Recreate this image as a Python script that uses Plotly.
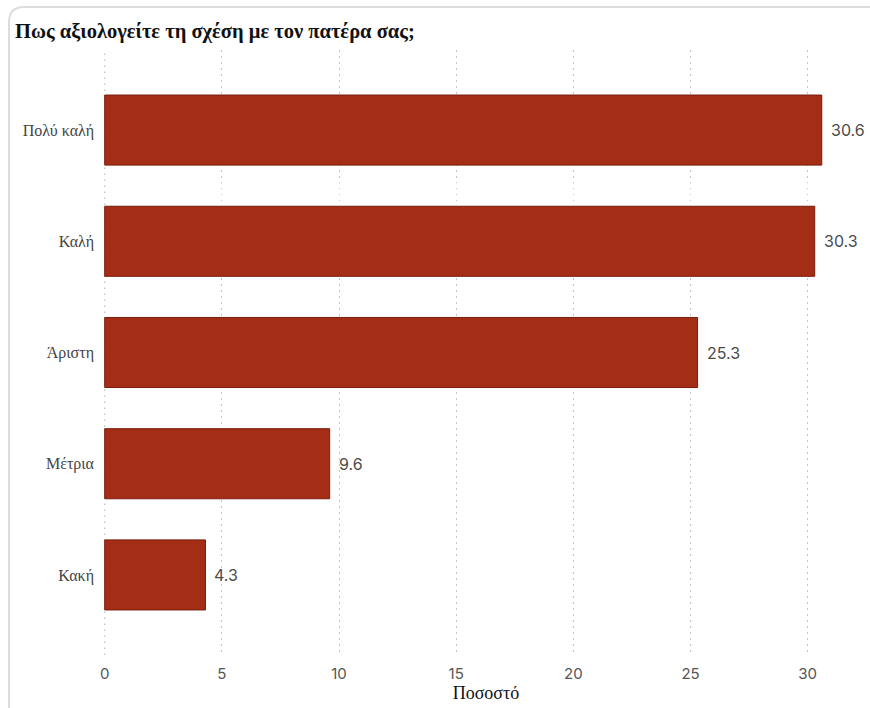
import plotly.graph_objects as go

# Survey answers and their percentages
categories = ["Πολύ καλή", "Καλή", "Άριστη", "Μέτρια", "Κακή"]
values = [30.6, 30.3, 25.3, 9.6, 4.3]
tick_values = [0, 5, 10, 15, 20, 25, 30]

title_text = "Πως αξιολογείτε τη σχέση με τον πατέρα σας;"
x_title = "Ποσοστό"

W, H = 870, 708
ML, MR, MT, MB = 104, 2, 50, 53
PW, PH = W - ML - MR, H - MT - MB
X0 = -0.03
X1 = X0 + PW / (703 / 30)
GRID_COLOR = "#c4c4c4"
GRID_DASH = "1.5px,4.5px"


def px_x(px):
    return (px - ML) / PW


def px_y(py):
    return (H - MB - py) / PH


fig = go.Figure(
    go.Bar(
        y=categories,
        x=values,
        orientation="h",
        width=0.63,
        marker=dict(color="#a32d15", line=dict(color="#7a1d0b", width=1)),
        hoverinfo="skip",
    )
)

# Value labels next to the bar ends
for cat, v in zip(categories, values):
    fig.add_annotation(
        x=v, y=cat, xref="x", yref="y",
        text=f"{v:.1f}", showarrow=False,
        xanchor="left", yanchor="middle", xshift=7,
        font=dict(family="Inter", size=16, color="#4a4a4a"),
    )

# Dotted gridline at zero (sits on the plot edge)
fig.add_shape(
    type="line", xref="x", yref="paper", x0=0, x1=0, y0=0, y1=1,
    line=dict(color=GRID_COLOR, width=1.3, dash=GRID_DASH), layer="below",
)

# Card outline: top edge and left edge with a rounded corner
r = 15
path = (
    f"M {px_x(9)} {px_y(H + 5)} L {px_x(9)} {px_y(7 + r)} "
    f"Q {px_x(9)} {px_y(7)} {px_x(9 + r)} {px_y(7)} L {px_x(W + 5)} {px_y(7)}"
)
fig.add_shape(
    type="path", xref="paper", yref="paper", path=path,
    line=dict(color="#dddddd", width=2), layer="below",
)

fig.update_layout(
    width=W,
    height=H,
    margin=dict(l=ML, r=MR, t=MT, b=MB),
    paper_bgcolor="white",
    plot_bgcolor="white",
    showlegend=False,
    title=dict(
        text=f"<b>{title_text}</b>",
        x=15 / W, xanchor="left",
        y=1 - 31 / H, yanchor="middle",
        font=dict(family="Liberation Serif", size=20.5, color="#111111"),
    ),
    xaxis=dict(
        range=[X0, X1],
        tickvals=tick_values,
        showgrid=True,
        gridcolor=GRID_COLOR,
        griddash=GRID_DASH,
        gridwidth=1.3,
        zeroline=False,
        showline=False,
        ticks="",
        ticklabelstandoff=8,
        tickfont=dict(family="Inter", size=15, color="#555555"),
        title=dict(
            text=x_title,
            font=dict(family="Liberation Serif", size=18, color="#111111"),
            standoff=4,
        ),
        fixedrange=True,
    ),
    yaxis=dict(
        autorange=False,
        range=[4.72, -0.72],
        showgrid=False,
        zeroline=False,
        showline=False,
        ticks="",
        ticklabelstandoff=9,
        tickfont=dict(family="Liberation Serif", size=16, color="#444444"),
        fixedrange=True,
    ),
)

fig.write_html("out.html")
